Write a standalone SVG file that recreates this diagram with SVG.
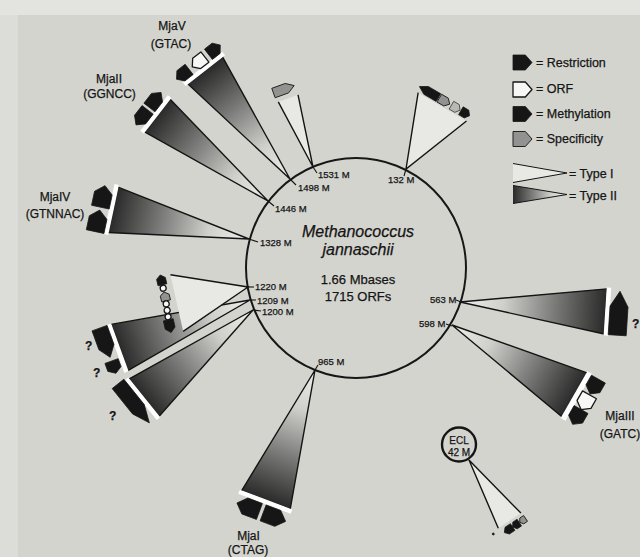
<svg xmlns="http://www.w3.org/2000/svg" width="640" height="557" viewBox="0 0 640 557">
<defs>
<style>
.t{font-family:"Liberation Sans",Arial,Helvetica,sans-serif;fill:#151515;stroke:#151515;stroke-width:0.25}
.lab{font-size:12px;text-anchor:middle}
.pos{font-size:9.5px}
.q{font-size:12px;font-weight:bold}
.leg{font-size:12.5px}
.k{fill:#161616;stroke:#161616;stroke-width:0.8;stroke-linejoin:round}
.w{fill:#f7f7f5;stroke:#161616;stroke-width:1.3;stroke-linejoin:round}
.s{fill:#929290;stroke:#222;stroke-width:1;stroke-linejoin:round}
.l{fill:#b8b8b5;stroke:#333;stroke-width:0.8}
.t2{fill:url(#g2)}
.t1{fill:#e8e8e5}
.edge{fill:none;stroke:#141414;stroke-width:1.4}
.gap{fill:#ffffff}
.tick{stroke:#141414;stroke-width:1.1}
</style>
<linearGradient id="g2" x1="0" y1="0" x2="1" y2="0">
<stop offset="0" stop-color="#efefec"/>
<stop offset="0.3" stop-color="#cfcfcc"/>
<stop offset="0.65" stop-color="#7a7a78"/>
<stop offset="1" stop-color="#2a2a2a"/>
</linearGradient>
<path id="blk" d="M-1,-1 H0.3 L1,0 L0.3,1 H-1 Z" vector-effect="non-scaling-stroke"/>
</defs>

<rect width="640" height="557" fill="#d4d4cf"/>
<rect width="640" height="15" fill="#e3e3df"/>
<rect y="15" width="18" height="542" fill="#dcdcd8"/>

<g id="genome">
<circle cx="356" cy="268" r="110" fill="none" stroke="#171717" stroke-width="2"/>
<text class="t" x="358" y="237" style="font-size:16px;font-style:italic;text-anchor:middle">Methanococcus</text>
<text class="t" x="358" y="255" style="font-size:16px;font-style:italic;text-anchor:middle">jannaschii</text>
<text class="t" x="358" y="283.5" style="font-size:13px;text-anchor:middle">1.66 Mbases</text>
<text class="t" x="358" y="300.5" style="font-size:13px;text-anchor:middle">1715 ORFs</text>
<text class="t pos" x="318" y="178">1531 M</text>
<text class="t pos" x="298" y="191">1498 M</text>
<text class="t pos" x="275" y="212">1446 M</text>
<text class="t pos" x="260" y="246">1328 M</text>
<text class="t pos" x="255" y="290">1220 M</text>
<text class="t pos" x="257" y="304">1209 M</text>
<text class="t pos" x="262" y="315">1200 M</text>
<text class="t pos" x="318" y="365">965 M</text>
<text class="t pos" x="430" y="303">563 M</text>
<text class="t pos" x="419" y="327">598 M</text>
<text class="t pos" x="388" y="183">132 M</text>
</g>

<g id="connectors">
<line class="tick" x1="313" y1="167" x2="317" y2="173"/>
<line class="tick" x1="290" y1="179" x2="296" y2="185"/>
<line class="tick" x1="268" y1="201" x2="274" y2="206"/>
<line class="tick" x1="249" y1="239" x2="258" y2="242"/>
<line class="tick" x1="248" y1="287" x2="254" y2="287"/>
<line class="tick" x1="250" y1="300" x2="256" y2="300"/>
<line class="tick" x1="253" y1="310" x2="261" y2="311"/>
<line class="tick" x1="315" y1="370" x2="318" y2="365"/>
<line class="tick" x1="456" y1="300" x2="461" y2="302"/>
<line class="tick" x1="446" y1="324" x2="452" y2="326"/>
<line class="tick" x1="406" y1="169" x2="404" y2="176"/>
</g>

<g id="mjaII">
<g transform="translate(268,201) rotate(-142.3)">
<polygon class="t2" points="0,0 140,-20.7 140,20.7"/>
<polyline class="edge" points="140,-20.7 0,0 140,20.7"/>
<rect class="gap" x="139.5" y="-22.5" width="4.5" height="45"/>
<use href="#blk" class="k" transform="translate(151,-11) rotate(-90) scale(9.5,7)"/>
<use href="#blk" class="k" transform="translate(151,11) rotate(90) scale(9.5,7)"/>
</g>
<text class="t lab" x="109" y="83">MjaII</text>
<text class="t lab" x="109.5" y="98">(GGNCC)</text>
</g>

<g id="mjaV">
<g transform="translate(290,179) rotate(-128)">
<polygon class="t2" points="0,0 138,-22 138,22"/>
<polyline class="edge" points="138,-22 0,0 138,22"/>
<rect class="gap" x="137.5" y="-25" width="4.5" height="50"/>
<use href="#blk" class="k" transform="translate(148.5,-20) rotate(-90) scale(8,6.5)"/>
<use href="#blk" class="w" transform="translate(148.5,0) rotate(-90) scale(8,6.5)"/>
<use href="#blk" class="k" transform="translate(148.5,20) rotate(90) scale(7.5,6.5)"/>
</g>
<text class="t lab" x="172" y="30">MjaV</text>
<text class="t lab" x="171" y="48">(GTAC)</text>
</g>

<g id="site1531">
<g transform="translate(313,167) rotate(-109.9)">
<polygon class="t1" points="0,0 73,-10.5 73,10.5"/>
<polyline class="edge" points="73,-10.5 0,0 73,10.5"/>
<use href="#blk" class="s" transform="translate(83,-1) rotate(90) scale(11,5)"/>
</g>
</g>

<g id="site132">
<g transform="translate(406,169) rotate(-59.7)">
<polygon class="t1" points="0,0 72,-28 72,28"/>
<polyline class="edge" points="72,-28 0,0 72,28"/>
<use href="#blk" class="k" transform="translate(78,-19) rotate(-90) scale(11,4.5)"/>
<use href="#blk" class="s" transform="translate(78,-1) rotate(90) scale(6,4.5)"/>
<use href="#blk" class="l" transform="translate(78,12) rotate(90) scale(5,4.5)"/>
<use href="#blk" class="k" transform="translate(78,23) rotate(90) scale(5,4.5)"/>
</g>
</g>

<g id="mjaIV">
<g transform="translate(249,239) rotate(-167.9)">
<polygon class="t2" points="0,0 139,-23.2 139,23.2"/>
<polyline class="edge" points="139,-23.2 0,0 139,23.2"/>
<rect class="gap" x="138.5" y="-25.5" width="4.5" height="51"/>
<use href="#blk" class="k" transform="translate(152,11) rotate(90) scale(11,9)"/>
<use href="#blk" class="k" transform="translate(152,-14) rotate(90) scale(11,9)"/>
</g>
<text class="t lab" x="55" y="201">MjaIV</text>
<text class="t lab" x="55" y="218">(GTNNAC)</text>
</g>

<g id="site1209">
<g transform="translate(250,300) rotate(160)">
<polygon class="t2" points="0,0 139,-24.6 139,24.6"/>
<polyline class="edge" points="139,-24.6 0,0 139,24.6"/>
<rect class="gap" x="138.5" y="-25.5" width="4.5" height="51"/>
<use href="#blk" class="k" transform="translate(151,9.5) rotate(-90) scale(15.5,8)"/>
<use href="#blk" class="k" transform="translate(151,-16.5) rotate(-90) scale(6.5,7)"/>
</g>
<text class="t q" x="85" y="350">?</text>
<text class="t q" x="93" y="377">?</text>
</g>

<g id="site1200">
<g transform="translate(253,310) rotate(141.2)">
<polygon class="t2" points="0,0 140,-24 140,24"/>
<polyline class="edge" points="140,-24 0,0 140,24"/>
<rect class="gap" x="139.5" y="-25.5" width="4.5" height="51"/>
<use href="#blk" class="k" transform="translate(151.5,2) rotate(-90) scale(25,7.5)"/>
</g>
<text class="t q" x="109" y="420">?</text>
</g>

<g id="site1220">
<g transform="translate(248,287) rotate(167.3)">
<polygon class="t1" points="0,0 73,-29 73,29"/>
<polyline class="edge" points="73,-29 0,0 73,29"/>
<use href="#blk" class="k" transform="translate(83,26) rotate(90) scale(5,4.5)"/>
<circle class="w" cx="83" cy="17.5" r="3"/>
<use href="#blk" class="s" transform="translate(83,9) rotate(90) scale(4.5,4.5)"/>
<circle class="w" cx="83.5" cy="1.5" r="3"/>
<circle class="w" cx="84" cy="-5" r="3"/>
<circle class="w" cx="84.5" cy="-11.5" r="3"/>
<use href="#blk" class="k" transform="translate(85,-21) rotate(-90) scale(6.5,5)"/>
</g>
</g>

<g id="mjaI">
<g transform="translate(315,370) rotate(110.7)">
<polygon class="t2" points="0,0 139,-26 139,26"/>
<polyline class="edge" points="139,-26 0,0 139,26"/>
<rect class="gap" x="138.5" y="-28" width="4.5" height="56"/>
<use href="#blk" class="k" transform="translate(152,14) rotate(90) scale(12,8.5)"/>
<use href="#blk" class="k" transform="translate(152,-14) rotate(-90) scale(12,8.5)"/>
</g>
<text class="t lab" x="248.5" y="540">MjaI</text>
<text class="t lab" x="248" y="554">(CTAG)</text>
</g>

<g id="site563">
<g transform="translate(460,302) rotate(3.7)">
<polygon class="t2" points="0,0 146,-22.6 146,22.6"/>
<polyline class="edge" points="146,-22.6 0,0 146,22.6"/>
<rect class="gap" x="145.5" y="-24" width="4.5" height="48"/>
<use href="#blk" class="k" transform="translate(159,1) rotate(-90) scale(22,9)"/>
</g>
<text class="t q" x="632" y="328">?</text>
</g>

<g id="mjaIII">
<g transform="translate(452,325) rotate(29.7)">
<polygon class="t2" points="0,0 141,-25.3 141,25.3"/>
<polyline class="edge" points="141,-25.3 0,0 141,25.3"/>
<rect class="gap" x="140.5" y="-27" width="5.5" height="54"/>
<use href="#blk" class="k" transform="translate(154,-17) rotate(90) scale(8.5,8)"/>
<use href="#blk" class="w" transform="translate(154,1) rotate(90) scale(8.5,8)"/>
<use href="#blk" class="k" transform="translate(154,18) rotate(90) scale(8.5,8)"/>
</g>
<text class="t lab" x="620" y="420">MjaIII</text>
<text class="t lab" x="620" y="438">(GATC)</text>
</g>

<g id="ecl">
<g transform="translate(469,460) rotate(56.2)">
<polygon class="t1" points="0,0 73,-13.6 73,13.6"/>
<polyline class="edge" points="73,-13.6 0,0 73,13.6"/>
<use href="#blk" class="k" transform="translate(80,6) rotate(90) scale(5,4)"/>
<use href="#blk" class="k" transform="translate(80,-3) rotate(90) scale(4,4)"/>
<use href="#blk" class="s" transform="translate(80,-11) rotate(90) scale(3.5,3.5)"/>
<circle class="k" cx="75" cy="21" r="1"/>
</g>
<circle cx="459" cy="444.5" r="17" fill="#d4d4cf" stroke="#151515" stroke-width="2.4"/>
<text class="t" x="459" y="443.5" style="font-size:10px;text-anchor:middle">ECL</text>
<text class="t" x="459" y="455.5" style="font-size:10px;text-anchor:middle">42 M</text>
</g>

<g id="legend">
<use href="#blk" class="k" transform="translate(522.5,62.5) scale(9.5,7.5)"/>
<text class="t leg" x="536" y="66.5">= Restriction</text>
<use href="#blk" class="w" transform="translate(522.5,89.5) scale(9.5,7.5)"/>
<text class="t leg" x="536" y="93">= ORF</text>
<use href="#blk" class="k" transform="translate(522.5,114) scale(9.5,7.5)"/>
<text class="t leg" x="536" y="117.5">= Methylation</text>
<use href="#blk" class="s" transform="translate(522.5,139) scale(9.5,7.5)"/>
<text class="t leg" x="536" y="142.5">= Specificity</text>
<g transform="translate(567,173) rotate(180)">
<polygon class="t1" points="0,0 54,-9.5 54,9.5"/>
<polyline class="edge" points="54,-9.5 0,0 54,9.5" style="stroke-width:1"/>
</g>
<text class="t leg" x="569" y="178">= Type I</text>
<g transform="translate(567,194.5) rotate(180)">
<polygon class="t2" points="0,0 54,-9 54,9"/>
<polyline class="edge" points="54,-9 0,0 54,9" style="stroke-width:1"/>
</g>
<text class="t leg" x="569" y="200">= Type II</text>
</g>
</svg>
